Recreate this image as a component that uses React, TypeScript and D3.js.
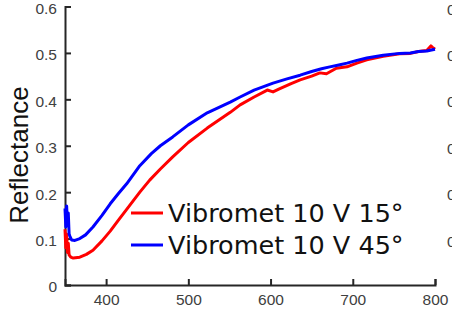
import React, { useEffect, useRef } from 'react'
import * as d3 from 'd3'

// wavelength (nm) / reflectance
const blueNm = [350, 351, 352, 353, 354, 355, 356, 358, 362, 368, 375, 384, 395, 405, 415, 425, 441, 455, 466, 481, 500, 523, 551, 563, 580, 603, 620, 636, 650, 662, 672, 683, 693, 705, 717, 737, 757, 770, 780, 790, 800]
const blueVal = [0.165, 0.125, 0.17, 0.13, 0.155, 0.11, 0.105, 0.097, 0.096, 0.1, 0.108, 0.125, 0.15, 0.175, 0.197, 0.218, 0.257, 0.283, 0.3, 0.319, 0.345, 0.371, 0.394, 0.405, 0.42, 0.435, 0.444, 0.452, 0.46, 0.466, 0.47, 0.474, 0.478, 0.484, 0.489, 0.495, 0.499, 0.5, 0.503, 0.504, 0.508]

const redNm = [350, 351, 352, 353, 354, 355, 357, 360, 368, 376, 384, 395, 405, 415, 425, 441, 453, 466, 481, 500, 523, 551, 563, 580, 596, 603, 610, 625, 636, 650, 660, 668, 680, 693, 705, 717, 737, 757, 770, 780, 790, 795, 797, 800]
const redVal = [0.12, 0.08, 0.11, 0.07, 0.09, 0.065, 0.06, 0.058, 0.06, 0.066, 0.075, 0.095, 0.116, 0.14, 0.163, 0.2, 0.226, 0.25, 0.276, 0.307, 0.338, 0.372, 0.388, 0.405, 0.42, 0.416, 0.422, 0.434, 0.442, 0.45, 0.457, 0.455, 0.467, 0.47, 0.478, 0.485, 0.493, 0.498, 0.499, 0.503, 0.505, 0.515, 0.512, 0.508]

const series = [
  { name: 'Vibromet 10 V 15°', color: '#ff0000', nm: redNm, val: redVal },
  { name: 'Vibromet 10 V 45°', color: '#0000ff', nm: blueNm, val: blueVal },
]

const xTicks = [400, 500, 600, 700, 800]
const yTicks = [0, 0.1, 0.2, 0.3, 0.4, 0.5, 0.6]
const clippedTicks = [0.1, 0.2, 0.3, 0.4, 0.5, 0.6]

const W = 452
const H = 314

export default function App() {
  const ref = useRef<SVGSVGElement>(null)

  useEffect(() => {
    const svg = d3.select(ref.current)
    svg.selectAll('*').remove()

    const x = d3.scaleLinear().domain([350, 800]).range([65, 435])
    const y = d3.scaleLinear().domain([0, 0.6]).range([285, 6.5])

    // axes (ticks pointing inward)
    const xAxis = svg.append('g').attr('transform', 'translate(0,285)')
      .call(d3.axisBottom(x).tickValues(xTicks).tickSizeInner(-6).tickSizeOuter(-6).tickPadding(9).tickFormat(d3.format('d')))
    const yAxis = svg.append('g').attr('transform', 'translate(65,0)')
      .call(d3.axisLeft(y).tickValues(yTicks).tickSizeInner(-6).tickSizeOuter(-6).tickPadding(8).tickFormat((d: any) => (d === 0 ? '0' : d3.format('.1f')(d))))
    ;[xAxis, yAxis].forEach(a => {
      a.select('.domain').attr('stroke', '#262626').attr('stroke-width', 2)
      a.selectAll('.tick line').attr('stroke', '#262626').attr('stroke-width', 2)
      a.selectAll('.tick text').attr('fill', '#404040').attr('font-size', 15.5)
        .attr('font-family', 'Liberation Sans, Arial, sans-serif')
    })
    yAxis.selectAll('.tick text').attr('dy', '0.45em')

    svg.append('text')
      .attr('transform', 'translate(28,155) rotate(-90)')
      .attr('text-anchor', 'middle')
      .attr('font-family', 'Liberation Sans, Arial, sans-serif')
      .attr('font-size', 26)
      .attr('fill', '#111')
      .text('Reflectance')

    const line = d3.line<[number, number]>().x(d => x(d[0])).y(d => y(d[1]))
    series.forEach(s => {
      svg.append('path')
        .datum(s.nm.map((n, i) => [n, s.val[i]] as [number, number]))
        .attr('d', line)
        .attr('fill', 'none')
        .attr('stroke', s.color)
        .attr('stroke-width', 3)
        .attr('stroke-linejoin', 'round')
    })

    // legend
    const lg = svg.append('g')
    series.forEach((s, i) => {
      const yy = 213 + i * 32
      lg.append('line').attr('x1', 131).attr('x2', 163).attr('y1', yy).attr('y2', yy)
        .attr('stroke', s.color).attr('stroke-width', 3)
      lg.append('text').attr('x', 168).attr('y', yy + 9)
        .attr('font-family', 'DejaVu Sans, Verdana, sans-serif')
        .attr('font-size', 25.5)
        .attr('fill', '#111')
        .text(s.name)
    })

    // clipped labels of neighbouring panel at right edge
    svg.append('g').selectAll('text').data(clippedTicks).enter().append('text')
      .attr('x', 447).attr('y', d => y(d) + 8)
      .attr('font-family', 'Liberation Sans, Arial, sans-serif')
      .attr('font-size', 15.5).attr('fill', '#404040')
      .text('0')
  }, [])

  return (
    <svg ref={ref} width={W} height={H} style={{ position: 'absolute', left: 0, top: 0, background: '#fff' }} />
  )
}
